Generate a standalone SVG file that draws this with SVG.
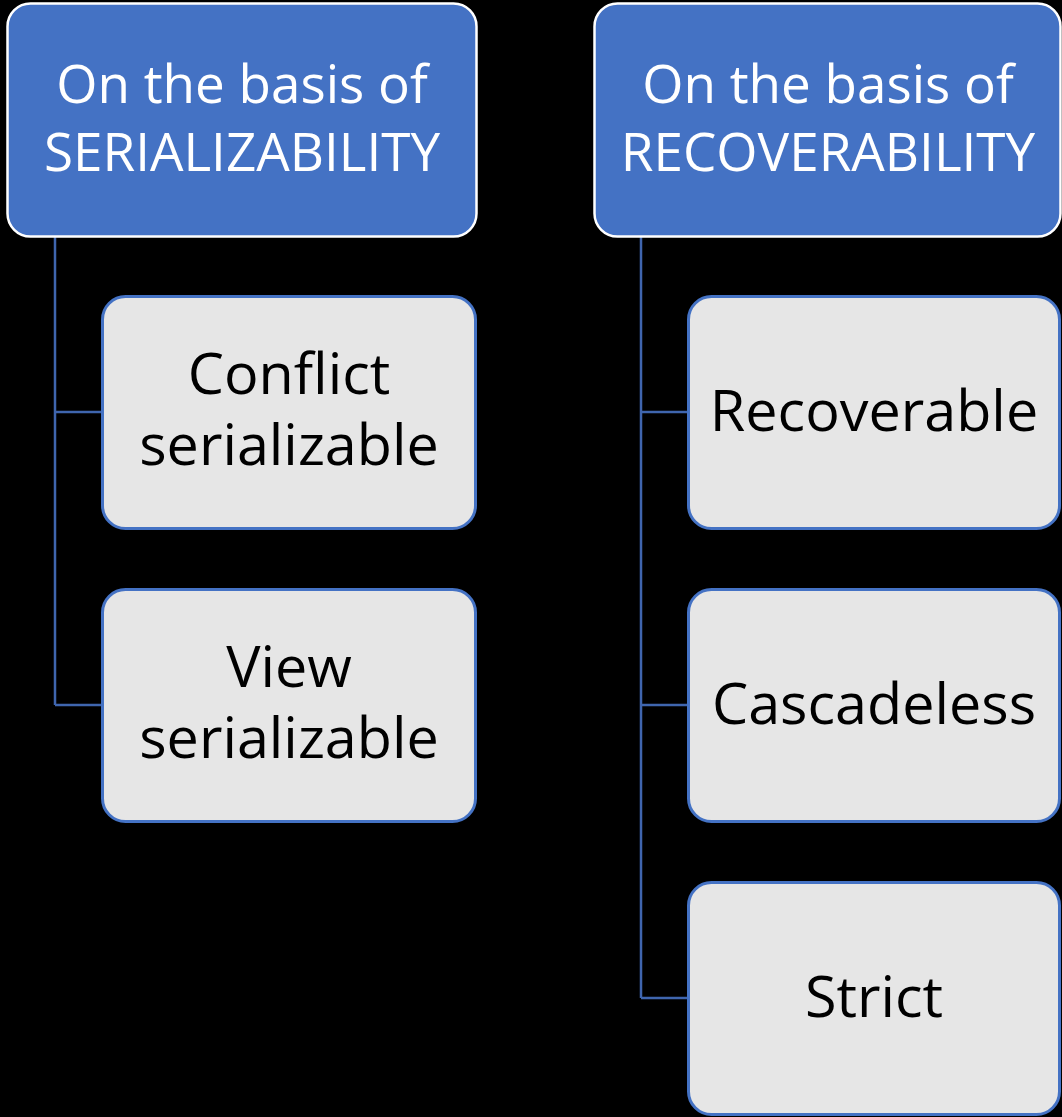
<svg xmlns="http://www.w3.org/2000/svg" width="1062" height="1117" viewBox="0 0 1062 1117">
<style>
.hdr{fill:#4472C4;stroke:#FFFFFF;stroke-width:2.5}
.child{fill:#E6E6E6;stroke:#4472C4;stroke-width:3}
.ht{font-family:"Open Sans","Liberation Sans",sans-serif;font-size:53px;fill:#FFFFFF;text-anchor:middle}
.ct{font-family:"Open Sans","Liberation Sans",sans-serif;font-size:57.5px;fill:#000000;text-anchor:middle}
.conn{fill:none;stroke:#3F65AE;stroke-width:2.5}
</style>
<rect x="0" y="0" width="1062" height="1117" fill="#000000"/>
<g id="connectors">
<path class="conn" d="M55,237 V705 M55,412 H102 M55,705 H102"/>
<path class="conn" d="M641,237 V998 M641,412 H688 M641,705 H688 M641,998 H688"/>
</g>
<g id="hdr-serial">
<rect class="hdr" x="7.5" y="3.5" width="469" height="233" rx="23"/>
<text class="ht" x="242" y="103">On the basis of</text>
<text class="ht" x="242" y="171">SERIALIZABILITY</text>
</g>
<g id="hdr-recover">
<rect class="hdr" x="594.5" y="3.5" width="466" height="233" rx="23"/>
<text class="ht" x="828" y="103">On the basis of</text>
<text class="ht" x="828" y="171">RECOVERABILITY</text>
</g>
<g id="conflict">
<rect class="child" x="102.5" y="296.5" width="373" height="232" rx="23"/>
<text class="ct" x="289" y="394">Conflict</text>
<text class="ct" x="289" y="465">serializable</text>
</g>
<g id="view">
<rect class="child" x="102.5" y="589.5" width="373" height="232" rx="23"/>
<text class="ct" x="289" y="687">View</text>
<text class="ct" x="289" y="758">serializable</text>
</g>
<g id="recoverable">
<rect class="child" x="688.5" y="296.5" width="371" height="232" rx="23"/>
<text class="ct" x="874" y="431">Recoverable</text>
</g>
<g id="cascadeless">
<rect class="child" x="688.5" y="589.5" width="371" height="232" rx="23"/>
<text class="ct" x="874" y="724">Cascadeless</text>
</g>
<g id="strict">
<rect class="child" x="688.5" y="882.5" width="371" height="232" rx="23"/>
<text class="ct" x="874" y="1017">Strict</text>
</g>
</svg>
